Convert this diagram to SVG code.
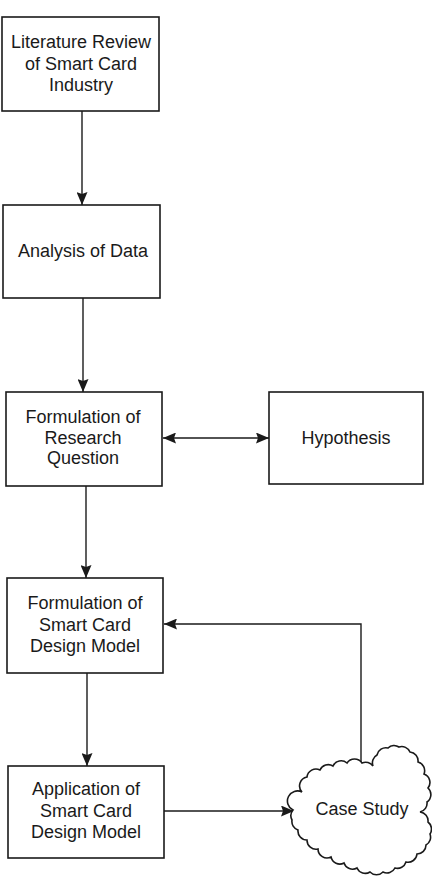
<svg xmlns="http://www.w3.org/2000/svg" width="432" height="878" viewBox="0 0 432 878">
<style>
.box{fill:#fff;stroke:#1a1a1a;stroke-width:1.6}
.lbl{font-family:"Liberation Sans",Arial,sans-serif;font-size:18px;fill:#1a1a1a;text-anchor:middle}
.con{fill:none;stroke:#1a1a1a;stroke-width:1.4}
</style>
<defs>
<marker id="ah" viewBox="0 0 13 11" refX="13" refY="5.5" markerWidth="13" markerHeight="11" markerUnits="userSpaceOnUse" orient="auto-start-reverse">
<path d="M0,0 L13,5.5 L0,11 L2,5.5 Z" fill="#1a1a1a"/>
</marker>
</defs>
<rect width="432" height="878" fill="#fff"/>
<g id="connectors">
<line class="con" x1="82" y1="111" x2="82" y2="205" marker-end="url(#ah)"/>
<line class="con" x1="83" y1="298" x2="83" y2="392" marker-end="url(#ah)"/>
<line class="con" x1="163" y1="438" x2="269" y2="438" marker-start="url(#ah)" marker-end="url(#ah)"/>
<line class="con" x1="86" y1="486" x2="86" y2="578" marker-end="url(#ah)"/>
<line class="con" x1="87" y1="673" x2="87" y2="766" marker-end="url(#ah)"/>
<line class="con" x1="164" y1="811" x2="294" y2="811" marker-end="url(#ah)"/>
<polyline class="con" points="361,763 361,624 164,624" marker-end="url(#ah)"/>
</g>
<g id="n1">
<rect class="box" x="2" y="17" width="157" height="94"/>
<text class="lbl" x="81" y="48">Literature Review</text>
<text class="lbl" x="81" y="70">of Smart Card</text>
<text class="lbl" x="81" y="91">Industry</text>
</g>
<g id="n2">
<rect class="box" x="3" y="205" width="157" height="93"/>
<text class="lbl" x="83" y="257">Analysis of Data</text>
</g>
<g id="n3">
<rect class="box" x="6" y="392" width="156" height="94"/>
<text class="lbl" x="83" y="423">Formulation of</text>
<text class="lbl" x="83" y="444">Research</text>
<text class="lbl" x="83" y="464">Question</text>
</g>
<g id="n4">
<rect class="box" x="269" y="392" width="154" height="92"/>
<text class="lbl" x="346" y="444">Hypothesis</text>
</g>
<g id="n5">
<rect class="box" x="7" y="578" width="156" height="95"/>
<text class="lbl" x="85" y="609">Formulation of</text>
<text class="lbl" x="85" y="631">Smart Card</text>
<text class="lbl" x="85" y="652">Design Model</text>
</g>
<g id="n6">
<rect class="box" x="8" y="766" width="156" height="92"/>
<text class="lbl" x="86" y="795">Application of</text>
<text class="lbl" x="86" y="817">Smart Card</text>
<text class="lbl" x="86" y="838">Design Model</text>
</g>
<g id="n7">
<path class="box" d="M293,810 A9,9 0 0 1 302,792 A9,9 0 0 1 307,777 A9,9 0 0 1 320,770 A9,9 0 0 1 333,766 A9,9 0 0 1 347,763 A9,9 0 0 1 362,763 A9,9 0 0 1 373,766 A9,9 0 0 1 377,755 A9,9 0 0 1 388,748 A9,9 0 0 1 399,747 A9,9 0 0 1 410,752 A9,9 0 0 1 418,762 A9,9 0 0 1 424,774 A9,9 0 0 1 428,788 A9,9 0 0 1 427,802 A9,9 0 0 1 420,812 A9,9 0 0 1 428,822 A9,9 0 0 1 430,834 A9,9 0 0 1 426,845 A9,9 0 0 1 417,854 A9,9 0 0 1 406,862 A9,9 0 0 1 395,868 A9,9 0 0 1 383,872 A9,9 0 0 1 370,872 A9,9 0 0 1 357,868 A9,9 0 0 1 344,863 A9,9 0 0 1 331,857 A9,9 0 0 1 318,849 A9,9 0 0 1 307,840 A9,9 0 0 1 298,830 A9,9 0 0 1 292,820 A9,9 0 0 1 293,810 Z"/>
<text class="lbl" x="362" y="815">Case Study</text>
</g>
</svg>
